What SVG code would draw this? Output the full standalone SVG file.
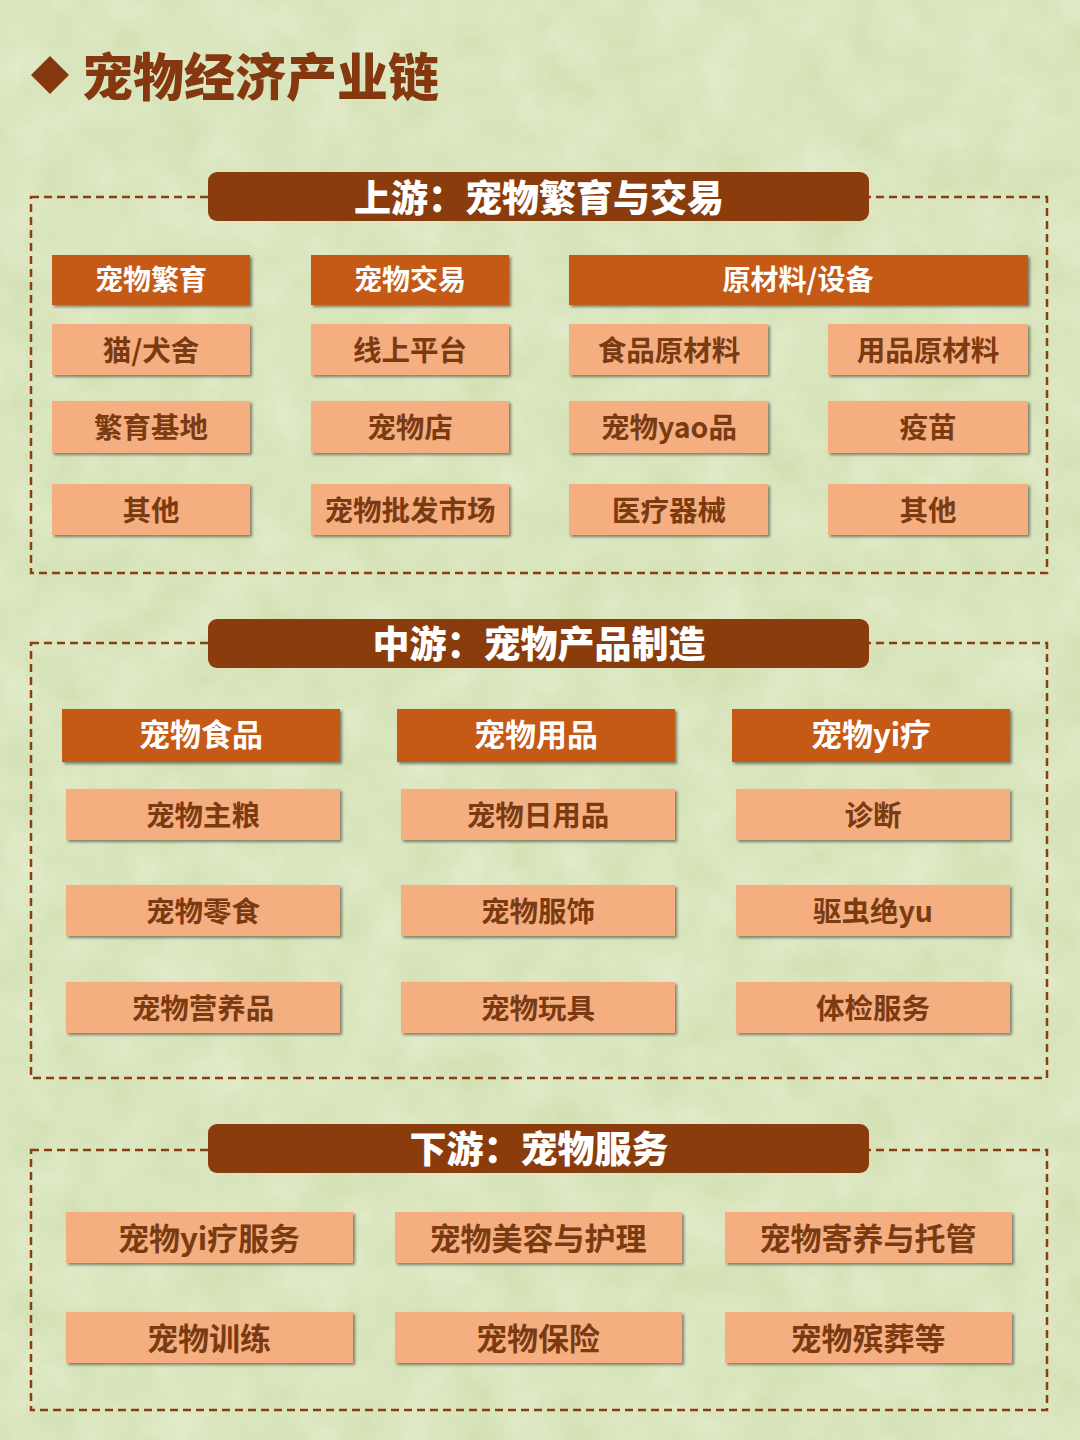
<svg xmlns="http://www.w3.org/2000/svg" width="1080" height="1440" viewBox="0 0 1080 1440">
<defs>
<filter id="tex" x="0" y="0" width="100%" height="100%">
<feTurbulence type="fractalNoise" baseFrequency="0.02" numOctaves="4" seed="3" result="n"/>
<feColorMatrix in="n" type="matrix" values="0 0 0 0 0.93  0 0 0 0 0.96  0 0 0 0 0.85  0 0 0 0.55 -0.1"/>
</filter>
<filter id="sh" x="-5%" y="-10%" width="110%" height="130%">
<feGaussianBlur in="SourceAlpha" stdDeviation="1.5"/>
<feOffset dx="1.5" dy="1.5" result="b"/>
<feComponentTransfer><feFuncA type="linear" slope="0.45"/></feComponentTransfer>
<feMerge><feMergeNode/><feMergeNode in="SourceGraphic"/></feMerge>
</filter>
<style>
.frame{fill:none;stroke:#8a3f12;stroke-width:2.5;stroke-dasharray:8 5}
.bar{fill:#8a3c0c}
.bartxt{fill:#ffffff;font-family:"Noto Sans CJK SC","Noto Sans",sans-serif;font-weight:900;font-size:37px;text-anchor:middle}
.hd{fill:#c55a14;filter:url(#sh)}
.hdtxt{fill:#ffffff;font-family:"Noto Sans CJK SC","Noto Sans",sans-serif;font-weight:700;font-size:28px;text-anchor:middle}
.it{fill:#f4ae80;filter:url(#sh)}
.ittxt{fill:#7a3a12;font-family:"Noto Sans CJK SC","Noto Sans",sans-serif;font-weight:700;font-size:28.5px;text-anchor:middle}
.big{font-size:31px}
</style>
</defs>
<rect width="1080" height="1440" fill="#d4e1b4"/>
<rect width="1080" height="1440" filter="url(#tex)"/>

<g id="title">
<polygon points="50,56 69,75 50,94 31,75" fill="#853810"/>
<text x="82" y="96" font-family="Noto Sans CJK SC, sans-serif" font-weight="900" font-size="51" fill="#853810">宠物经济产业链</text>
</g>

<g id="upstream">
<rect class="frame" x="31" y="197" width="1016" height="376"/>
<rect class="bar" x="208" y="172" width="661" height="49" rx="9"/>
<text class="bartxt" x="539" y="212">上游：宠物繁育与交易</text>
<g id="u-h1"><rect class="hd" x="52" y="255" width="198" height="50"/><text class="hdtxt" x="151" y="290">宠物繁育</text></g>
<g id="u-h2"><rect class="hd" x="311" y="255" width="198" height="50"/><text class="hdtxt" x="410" y="290">宠物交易</text></g>
<g id="u-h3"><rect class="hd" x="569" y="255" width="459" height="50"/><text class="hdtxt" x="798" y="290">原材料/设备</text></g>

<g id="u-11"><rect class="it" x="52" y="324" width="198" height="51"/><text class="ittxt" x="151" y="361">猫/犬舍</text></g>
<g id="u-12"><rect class="it" x="311" y="324" width="198" height="51"/><text class="ittxt" x="410" y="361">线上平台</text></g>
<g id="u-13"><rect class="it" x="569" y="324" width="199" height="51"/><text class="ittxt" x="669" y="361">食品原材料</text></g>
<g id="u-14"><rect class="it" x="828" y="324" width="200" height="51"/><text class="ittxt" x="928" y="361">用品原材料</text></g>

<g id="u-21"><rect class="it" x="52" y="401" width="198" height="52"/><text class="ittxt" x="151" y="438">繁育基地</text></g>
<g id="u-22"><rect class="it" x="311" y="401" width="198" height="52"/><text class="ittxt" x="410" y="438">宠物店</text></g>
<g id="u-23"><rect class="it" x="569" y="401" width="199" height="52"/><text class="ittxt" x="669" y="438">宠物yao品</text></g>
<g id="u-24"><rect class="it" x="828" y="401" width="200" height="52"/><text class="ittxt" x="928" y="438">疫苗</text></g>

<g id="u-31"><rect class="it" x="52" y="484" width="198" height="51"/><text class="ittxt" x="151" y="521">其他</text></g>
<g id="u-32"><rect class="it" x="311" y="484" width="198" height="51"/><text class="ittxt" x="410" y="521">宠物批发市场</text></g>
<g id="u-33"><rect class="it" x="569" y="484" width="199" height="51"/><text class="ittxt" x="669" y="521">医疗器械</text></g>
<g id="u-34"><rect class="it" x="828" y="484" width="200" height="51"/><text class="ittxt" x="928" y="521">其他</text></g>
</g>

<g id="midstream">
<rect class="frame" x="31" y="643" width="1016" height="435"/>
<rect class="bar" x="208" y="619" width="661" height="49" rx="9"/>
<text class="bartxt" x="539" y="658">中游：宠物产品制造</text>
<g id="m-h1"><rect class="hd" x="62" y="709" width="278" height="53"/><text class="hdtxt big" x="201" y="746">宠物食品</text></g>
<g id="m-h2"><rect class="hd" x="397" y="709" width="278" height="53"/><text class="hdtxt big" x="536" y="746">宠物用品</text></g>
<g id="m-h3"><rect class="hd" x="732" y="709" width="278" height="53"/><text class="hdtxt big" x="871" y="746">宠物yi疗</text></g>

<g id="m-11"><rect class="it" x="66" y="789" width="274" height="51"/><text class="ittxt" x="203" y="826">宠物主粮</text></g>
<g id="m-12"><rect class="it" x="401" y="789" width="274" height="51"/><text class="ittxt" x="538" y="826">宠物日用品</text></g>
<g id="m-13"><rect class="it" x="736" y="789" width="274" height="51"/><text class="ittxt" x="873" y="826">诊断</text></g>

<g id="m-21"><rect class="it" x="66" y="885" width="274" height="51"/><text class="ittxt" x="203" y="922">宠物零食</text></g>
<g id="m-22"><rect class="it" x="401" y="885" width="274" height="51"/><text class="ittxt" x="538" y="922">宠物服饰</text></g>
<g id="m-23"><rect class="it" x="736" y="885" width="274" height="51"/><text class="ittxt" x="873" y="922">驱虫绝yu</text></g>

<g id="m-31"><rect class="it" x="66" y="982" width="274" height="51"/><text class="ittxt" x="203" y="1019">宠物营养品</text></g>
<g id="m-32"><rect class="it" x="401" y="982" width="274" height="51"/><text class="ittxt" x="538" y="1019">宠物玩具</text></g>
<g id="m-33"><rect class="it" x="736" y="982" width="274" height="51"/><text class="ittxt" x="873" y="1019">体检服务</text></g>
</g>

<g id="downstream">
<rect class="frame" x="31" y="1150" width="1016" height="260"/>
<rect class="bar" x="208" y="1124" width="661" height="49" rx="9"/>
<text class="bartxt" x="539" y="1163">下游：宠物服务</text>
<g id="d-11"><rect class="it" x="66" y="1212" width="287" height="51"/><text class="ittxt big" x="209" y="1249.5">宠物yi疗服务</text></g>
<g id="d-12"><rect class="it" x="395" y="1212" width="287" height="51"/><text class="ittxt big" x="538" y="1249.5">宠物美容与护理</text></g>
<g id="d-13"><rect class="it" x="725" y="1212" width="287" height="51"/><text class="ittxt big" x="868" y="1249.5">宠物寄养与托管</text></g>
<g id="d-21"><rect class="it" x="66" y="1312" width="287" height="51"/><text class="ittxt big" x="209" y="1349.5">宠物训练</text></g>
<g id="d-22"><rect class="it" x="395" y="1312" width="287" height="51"/><text class="ittxt big" x="538" y="1349.5">宠物保险</text></g>
<g id="d-23"><rect class="it" x="725" y="1312" width="287" height="51"/><text class="ittxt big" x="868" y="1349.5">宠物殡葬等</text></g>
</g>
</svg>
